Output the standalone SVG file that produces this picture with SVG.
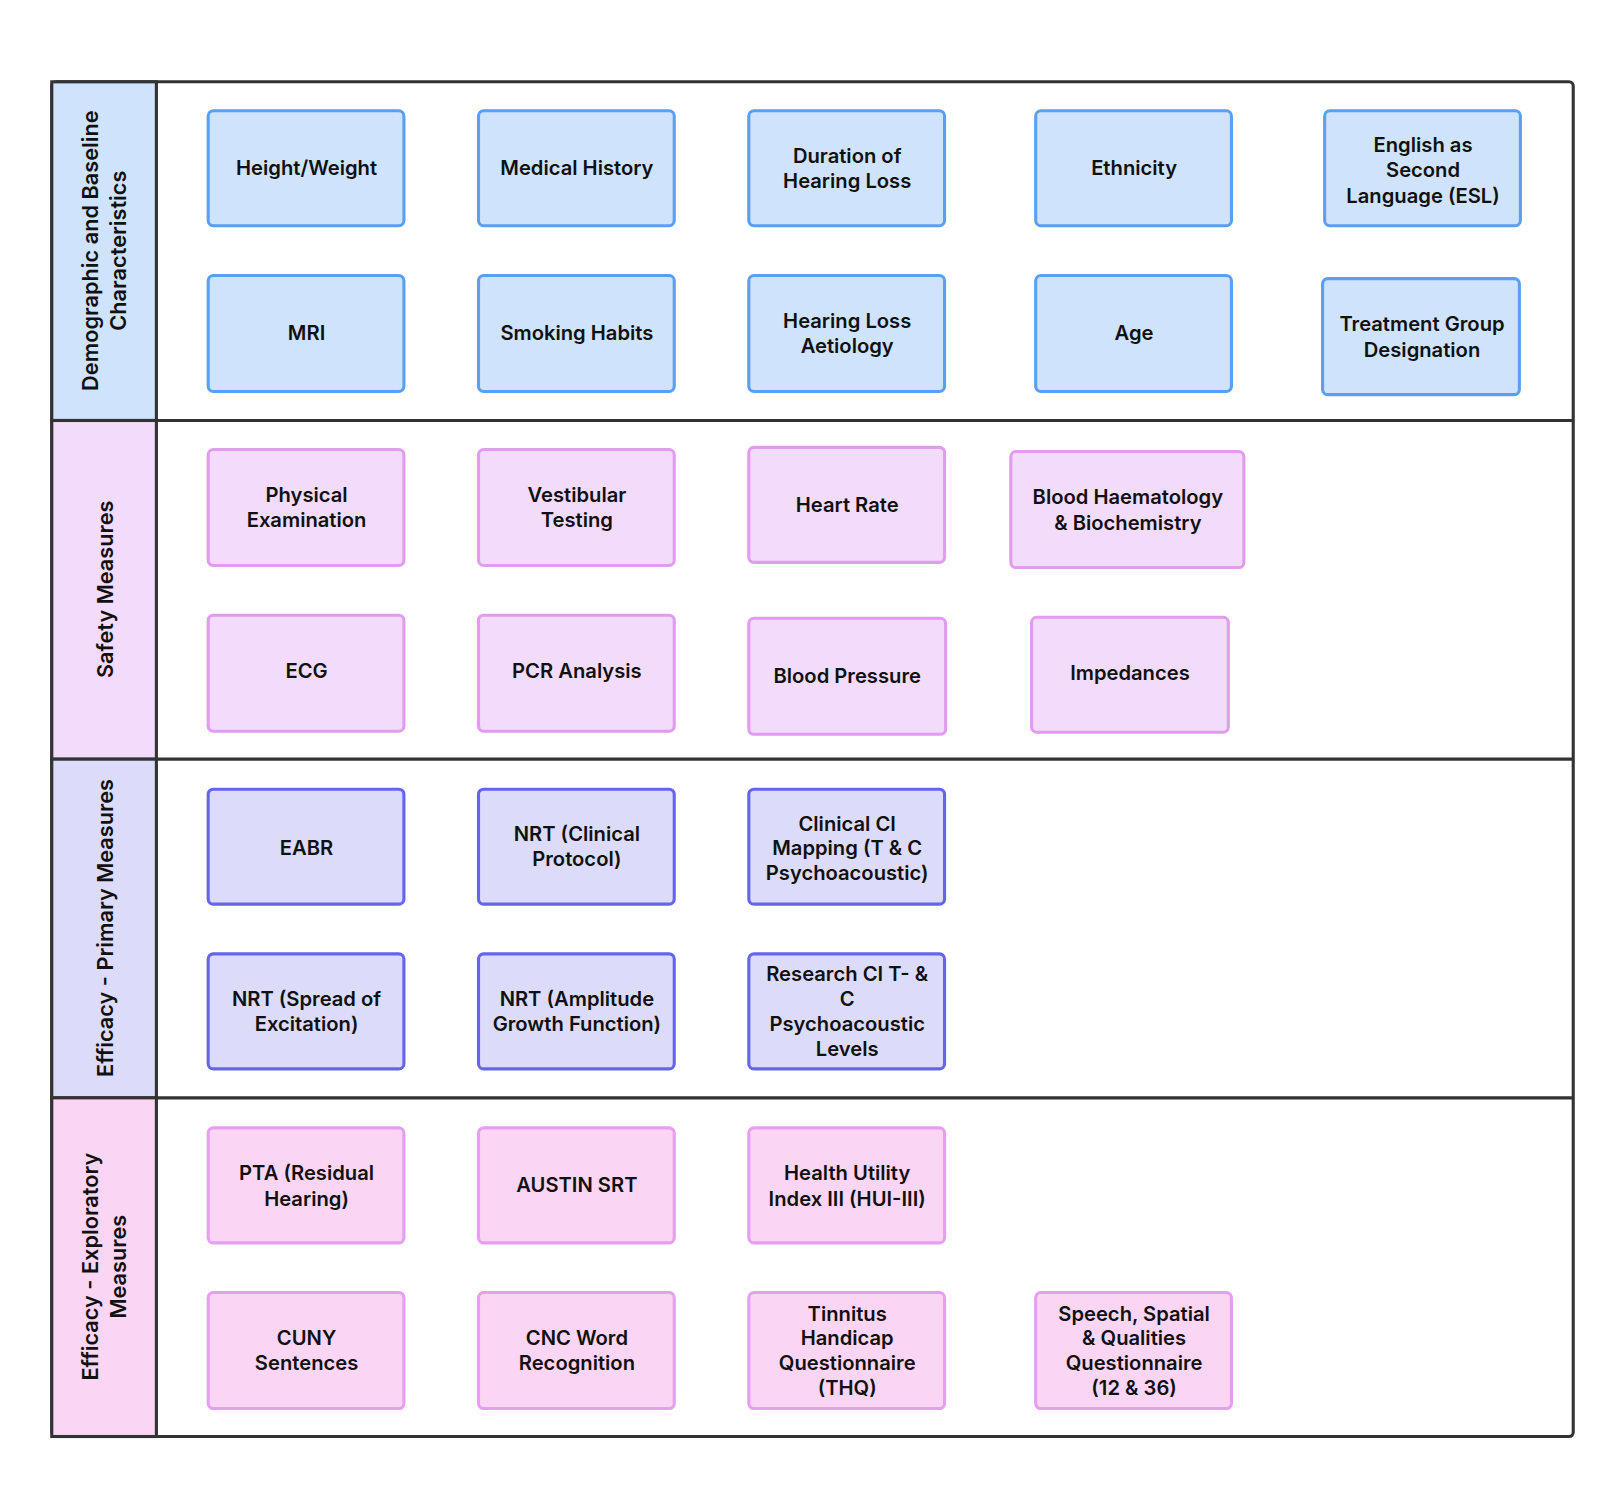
<svg xmlns="http://www.w3.org/2000/svg" width="1624" height="1489" viewBox="0 0 1624 1489">
<style>
text{font-family:Inter,"Liberation Sans",sans-serif;font-weight:600;fill:#111;text-anchor:middle}
.t{font-size:19.5px}
.l{font-size:21px}
.lane{stroke:#333;stroke-width:3}
.b1{fill:#cfe3fc;stroke:#5aa0f2;stroke-width:3}
.b2{fill:#f3dbfb;stroke:#e19cf0;stroke-width:3}
.b3{fill:#dcdcfa;stroke:#6464ee;stroke-width:3}
.b4{fill:#fbd6f4;stroke:#e59ef0;stroke-width:3}
</style>
<rect width="1624" height="1489" fill="#fff"/>
<g transform="scale(1.0357)">
<g id="lanes">
<rect x="50" y="79" width="1469" height="1308" rx="4" fill="#fff" class="lane"/>
<rect x="50" y="79" width="101" height="327" fill="#cfe3fc" class="lane"/>
<rect x="50" y="406" width="101" height="327" fill="#f3dbfb" class="lane"/>
<rect x="50" y="733" width="101" height="327" fill="#dcdcfa" class="lane"/>
<rect x="50" y="1060" width="101" height="327" fill="#fbd6f4" class="lane"/>
<line x1="151" y1="406" x2="1519" y2="406" class="lane"/>
<line x1="151" y1="733" x2="1519" y2="733" class="lane"/>
<line x1="151" y1="1060" x2="1519" y2="1060" class="lane"/>
<text class="l" transform="translate(95,242) rotate(-90)">Demographic and Baseline</text>
<text class="l" transform="translate(122,242) rotate(-90)">Characteristics</text>
<text class="l" transform="translate(109,569) rotate(-90)">Safety Measures</text>
<text class="l" transform="translate(109,896) rotate(-90)">Efficacy - Primary Measures</text>
<text class="l" transform="translate(95,1223) rotate(-90)">Efficacy - Exploratory</text>
<text class="l" transform="translate(122,1223) rotate(-90)">Measures</text>
</g>
<g id="connectors"/>
<g id="n1"><rect class="b1" x="201" y="107" width="189" height="111" rx="5"/><text class="t" x="296" y="169">Height/Weight</text></g>
<g id="n2"><rect class="b1" x="462" y="107" width="189" height="111" rx="5"/><text class="t" x="557" y="169">Medical History</text></g>
<g id="n3"><rect class="b1" x="723" y="107" width="189" height="111" rx="5"/><text class="t" x="818" y="157">Duration of</text><text class="t" x="818" y="182">Hearing Loss</text></g>
<g id="n4"><rect class="b1" x="1000" y="107" width="189" height="111" rx="5"/><text class="t" x="1095" y="169">Ethnicity</text></g>
<g id="n5"><rect class="b1" x="1279" y="107" width="189" height="111" rx="5"/><text class="t" x="1374" y="147">English as</text><text class="t" x="1374" y="171">Second</text><text class="t" x="1374" y="196">Language (ESL)</text></g>
<g id="n6"><rect class="b1" x="201" y="266" width="189" height="112" rx="5"/><text class="t" x="296" y="328">MRI</text></g>
<g id="n7"><rect class="b1" x="462" y="266" width="189" height="112" rx="5"/><text class="t" x="557" y="328">Smoking Habits</text></g>
<g id="n8"><rect class="b1" x="723" y="266" width="189" height="112" rx="5"/><text class="t" x="818" y="317">Hearing Loss</text><text class="t" x="818" y="341">Aetiology</text></g>
<g id="n9"><rect class="b1" x="1000" y="266" width="189" height="112" rx="5"/><text class="t" x="1095" y="328">Age</text></g>
<g id="n10"><rect class="b1" x="1277" y="269" width="190" height="112" rx="5"/><text class="t" x="1373" y="320">Treatment Group</text><text class="t" x="1373" y="345">Designation</text></g>
<g id="s1"><rect class="b2" x="201" y="434" width="189" height="112" rx="5"/><text class="t" x="296" y="485">Physical</text><text class="t" x="296" y="509">Examination</text></g>
<g id="s2"><rect class="b2" x="462" y="434" width="189" height="112" rx="5"/><text class="t" x="557" y="485">Vestibular</text><text class="t" x="557" y="509">Testing</text></g>
<g id="s3"><rect class="b2" x="723" y="432" width="189" height="111" rx="5"/><text class="t" x="818" y="494">Heart Rate</text></g>
<g id="s4"><rect class="b2" x="976" y="436" width="225" height="112" rx="5"/><text class="t" x="1089" y="487">Blood Haematology</text><text class="t" x="1089" y="512">&amp; Biochemistry</text></g>
<g id="s5"><rect class="b2" x="201" y="594" width="189" height="112" rx="5"/><text class="t" x="296" y="655">ECG</text></g>
<g id="s6"><rect class="b2" x="462" y="594" width="189" height="112" rx="5"/><text class="t" x="557" y="655">PCR Analysis</text></g>
<g id="s7"><rect class="b2" x="723" y="597" width="190" height="112" rx="5"/><text class="t" x="818" y="659">Blood Pressure</text></g>
<g id="s8"><rect class="b2" x="996" y="596" width="190" height="111" rx="5"/><text class="t" x="1091" y="657">Impedances</text></g>
<g id="p1"><rect class="b3" x="201" y="762" width="189" height="111" rx="5"/><text class="t" x="296" y="826">EABR</text></g>
<g id="p2"><rect class="b3" x="462" y="762" width="189" height="111" rx="5"/><text class="t" x="557" y="812">NRT (Clinical</text><text class="t" x="557" y="836">Protocol)</text></g>
<g id="p3"><rect class="b3" x="723" y="762" width="189" height="111" rx="5"/><text class="t" x="818" y="802">Clinical CI</text><text class="t" x="818" y="826">Mapping (T &amp; C</text><text class="t" x="818" y="850">Psychoacoustic)</text></g>
<g id="p4"><rect class="b3" x="201" y="921" width="189" height="111" rx="5"/><text class="t" x="296" y="971">NRT (Spread of</text><text class="t" x="296" y="995">Excitation)</text></g>
<g id="p5"><rect class="b3" x="462" y="921" width="189" height="111" rx="5"/><text class="t" x="557" y="971">NRT (Amplitude</text><text class="t" x="557" y="995">Growth Function)</text></g>
<g id="p6"><rect class="b3" x="723" y="921" width="189" height="111" rx="5"/><text class="t" x="818" y="947">Research CI T- &amp;</text><text class="t" x="818" y="971">C</text><text class="t" x="818" y="995">Psychoacoustic</text><text class="t" x="818" y="1020">Levels</text></g>
<g id="e1"><rect class="b4" x="201" y="1089" width="189" height="111" rx="5"/><text class="t" x="296" y="1139">PTA (Residual</text><text class="t" x="296" y="1164">Hearing)</text></g>
<g id="e2"><rect class="b4" x="462" y="1089" width="189" height="111" rx="5"/><text class="t" x="557" y="1151">AUSTIN SRT</text></g>
<g id="e3"><rect class="b4" x="723" y="1089" width="189" height="111" rx="5"/><text class="t" x="818" y="1139">Health Utility</text><text class="t" x="818" y="1164">Index III (HUI-III)</text></g>
<g id="e4"><rect class="b4" x="201" y="1248" width="189" height="112" rx="5"/><text class="t" x="296" y="1299">CUNY</text><text class="t" x="296" y="1323">Sentences</text></g>
<g id="e5"><rect class="b4" x="462" y="1248" width="189" height="112" rx="5"/><text class="t" x="557" y="1299">CNC Word</text><text class="t" x="557" y="1323">Recognition</text></g>
<g id="e6"><rect class="b4" x="723" y="1248" width="189" height="112" rx="5"/><text class="t" x="818" y="1275">Tinnitus</text><text class="t" x="818" y="1299">Handicap</text><text class="t" x="818" y="1323">Questionnaire</text><text class="t" x="818" y="1347">(THQ)</text></g>
<g id="e7"><rect class="b4" x="1000" y="1248" width="189" height="112" rx="5"/><text class="t" x="1095" y="1275">Speech, Spatial</text><text class="t" x="1095" y="1299">&amp; Qualities</text><text class="t" x="1095" y="1323">Questionnaire</text><text class="t" x="1095" y="1347">(12 &amp; 36)</text></g>
</g>
</svg>
